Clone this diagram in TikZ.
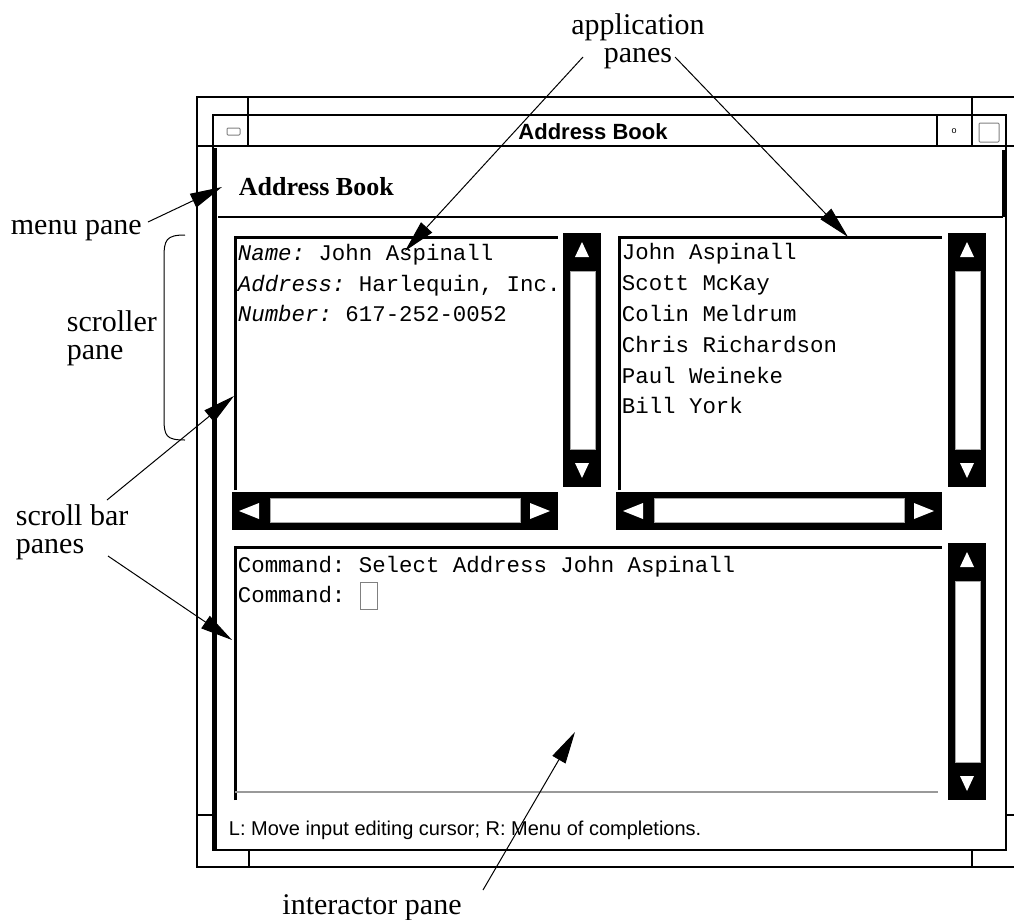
\documentclass[tikz,border=0pt]{standalone}
\usepackage{fontspec}
\setmainfont{Liberation Serif}
\setsansfont{Liberation Sans}
\setmonofont{Liberation Mono}
\usetikzlibrary{arrows.meta}

\begin{document}
\begin{tikzpicture}[x=1pt, y=-1pt, line width=1.8pt,
		lbl/.style={font=\fontsize{30}{28}\selectfont, inner sep=0pt},
		mono/.style={font=\fontsize{22.4}{24}\selectfont\ttfamily, inner sep=0pt, anchor=base west},
		pointer/.style={line width=1pt, -{Triangle[length=32pt,width=15pt]}},
		thumb/.style={fill=white, draw=gray!70, line width=1pt}]
	\useasboundingbox (0,0) rectangle (1014,919);

	% outer frame and window
	\draw (1014,97) -- (197,97) -- (197,867) -- (1014,867);
	\draw (197,146) -- (213,146) (197,815) -- (213,815) (1006,146) -- (1014,146) (1006,815) -- (1014,815);
	\draw (248,97) -- (248,115) (972,97) -- (972,115) (249,850) -- (249,867) (972,850) -- (972,867);
	\draw[fill=white] (213,115) rectangle (1006,850);
	\draw (213,146) -- (1006,146) (248,115) -- (248,146) (937,115) -- (937,146) (972,115) -- (972,146);
	\draw[line width=3pt] (215,148) -- (215,850);
	\draw[gray, line width=1pt, rounded corners=1pt] (227,128) rectangle (240,135) (979,123) rectangle (999,142);
	\node[font=\fontsize{9}{9}\sffamily, inner sep=0pt] (mini) at (954,131) {o};
	\node[font=\fontsize{22}{22}\sffamily\bfseries, anchor=base] (title) at (593,139) {Address Book};

	% menu pane
	\draw[line width=3pt] (1003,150) -- (1003,217);
	\draw (218,217) -- (1003,217);
	\node[font=\fontsize{26}{26}\selectfont\bfseries, anchor=base west, inner sep=0pt] (menu) at (238,195) {Address Book};

	% application panes
	\draw[line width=3pt] (235,490) -- (235,237) -- (558,237);
	\draw[line width=3pt] (619,490) -- (619,237) -- (942,237);
	\node[mono] (name) at (237,260) {\textit{Name:} John Aspinall};
	\node[mono] (addr) at (237,291) {\textit{Address:} Harlequin, Inc.};
	\node[mono] (num) at (237,321) {\textit{Number:} 617-252-0052};
	\foreach \who [count=\i] in {John Aspinall, Scott McKay, Colin Meldrum, Chris Richardson, Paul Weineke, Bill York}
		\node[mono] (who\i) at (621, 229+30.8*\i) {\who};

	% interactor pane
	\draw[line width=3pt] (235,800) -- (235,547) -- (942,547);
	\draw[gray!80, line width=2.5pt] (235,792) -- (938,792);
	\node[mono] (cmd) at (237,572) {Command: Select Address John Aspinall};
	\node[mono] (prompt) at (237,602) {Command:};
	\draw[gray, line width=1pt] (360,582) rectangle (377,609);
	\node[font=\fontsize{20}{20}\sffamily, anchor=base west, inner sep=0pt] (status) at (228,835) {L: Move input editing cursor; R: Menu of completions.};

	% scroll bars
	\foreach \x/\t/\b in {563/233/487, 948/233/487, 948/543/800} {
		\fill (\x,\t) rectangle (\x+38,\b);
		\draw[thumb] (\x+7,\t+38) rectangle (\x+32,\b-38);
		\fill[white] (\x+19,\t+9) -- (\x+12,\t+24) -- (\x+26,\t+24) -- cycle;
		\fill[white] (\x+19,\b-9) -- (\x+12,\b-24) -- (\x+26,\b-24) -- cycle;
	}
	\foreach \x in {232, 616} {
		\fill (\x,492) rectangle (\x+326,530);
		\draw[thumb] (\x+38,498) rectangle (\x+288,522);
		\fill[white] (\x+7,511) -- (\x+27,503) -- (\x+27,519) -- cycle;
		\fill[white] (\x+318,511) -- (\x+298,503) -- (\x+298,519) -- cycle;
	}

	% labels
	\node[lbl, align=center] (apps) at (638,41) {application\\panes};
	\node[lbl, anchor=base west] (menulbl) at (10,234) {menu pane};
	\node[lbl, align=left, anchor=west] (scroller) at (66,338) {scroller\\pane};
	\node[lbl, align=left, anchor=west] (bars) at (15,532) {scroll bar\\panes};
	\node[lbl, anchor=base] (inter) at (372,914) {interactor pane};
	\draw[line width=1pt] (185,235) .. controls (166,235) and (164,240) .. (164,258) -- (164,418) .. controls (164,436) and (166,440) .. (185,440);

	% pointers
	\coordinate (appsL) at (583,57);
	\coordinate (appsR) at (675,57);
	\coordinate (menuS) at (148,222);
	\coordinate (barsU) at (107,500);
	\coordinate (barsD) at (108,556);
	\coordinate (interS) at (483,890);
	\coordinate (tipL) at (405,251);
	\coordinate (tipR) at (848,237);
	\coordinate (tipM) at (222,187);
	\coordinate (tipU) at (234,396);
	\coordinate (tipD) at (232,640);
	\coordinate (tipI) at (575,732);
	\draw[pointer] (appsL) -- (tipL);
	\draw[pointer] (appsR) -- (tipR);
	\draw[pointer] (menuS) -- (tipM);
	\draw[pointer] (barsU) -- (tipU);
	\draw[pointer] (barsD) -- (tipD);
	\draw[pointer] (interS) -- (tipI);
\end{tikzpicture}
\end{document}
